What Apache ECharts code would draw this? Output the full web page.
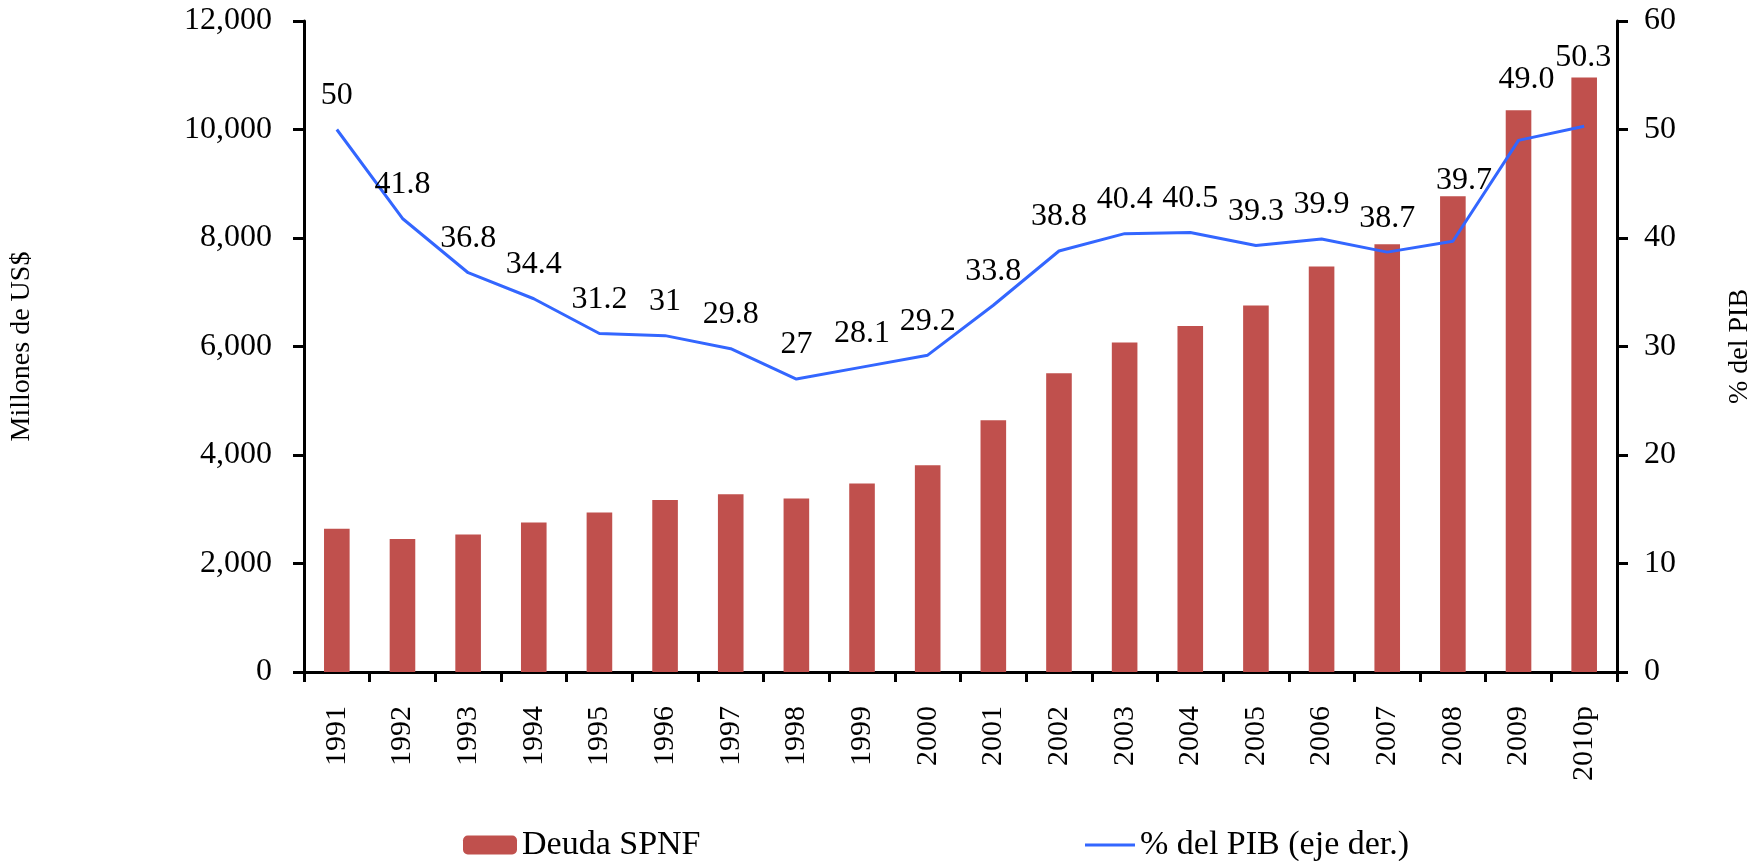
<!DOCTYPE html>
<html>
<head>
<meta charset="utf-8">
<title>Deuda SPNF</title>
<script src="https://cdn.jsdelivr.net/npm/echarts@6/dist/echarts.min.js"></script>
<style>
  html, body { margin: 0; padding: 0; background: #fff; }
  #chart { width: 1762px; height: 861px; }
</style>
</head>
<body>
<div id="chart"></div>
<script>
const years = ['1991', '1992', '1993', '1994', '1995', '1996', '1997', '1998', '1999', '2000',
  '2001', '2002', '2003', '2004', '2005', '2006', '2007', '2008', '2009', '2010p']
// millones de US$
const deuda = [2640, 2450, 2535, 2755, 2940, 3170, 3275, 3200, 3475, 3810,
  4640, 5505, 6075, 6380, 6755, 7475, 7885, 8770, 10355, 10960]
// % del PIB
const pctPib = [50, 41.8, 36.8, 34.4, 31.2, 31, 29.8, 27, 28.1, 29.2,
  33.8, 38.8, 40.4, 40.5, 39.3, 39.9, 38.7, 39.7, 49.0, 50.3]
const pctLabels = ['50', '41.8', '36.8', '34.4', '31.2', '31', '29.8', '27', '28.1', '29.2',
  '33.8', '38.8', '40.4', '40.5', '39.3', '39.9', '38.7', '39.7', '49.0', '50.3']
const leftTicks = [0, 2000, 4000, 6000, 8000, 10000, 12000]
const rightTicks = [0, 10, 20, 30, 40, 50, 60]

const serif = '"Liberation Serif", "Times New Roman", serif'
const black = '#000'
const blue = '#3366FF'

// the last labels sit higher in the original
const labelNudge = { 17: [11, -27], 18: [8, -27], 19: [-1, -35] }

const chart = echarts.init(document.getElementById('chart'))

const axisLine = { show: true, lineStyle: { color: black, width: 3 } }
const axisTick = { show: true, length: 11, lineStyle: { color: black, width: 3 } }

chart.setOption({
  animation: false,
  textStyle: { fontFamily: serif, color: black },
  grid: { left: 302, right: 145, top: 21, bottom: 189 },
  legend: [
    {
      left: 458,
      top: 823,
      itemWidth: 54,
      itemHeight: 19,
      data: ['Deuda SPNF'],
      textStyle: { fontFamily: serif, fontSize: 34, color: black },
    },
    {
      left: 1080,
      top: 823,
      itemWidth: 50,
      itemHeight: 3,
      data: [{ name: '% del PIB (eje der.)', icon: 'rect' }],
      textStyle: { fontFamily: serif, fontSize: 34, color: black },
    },
  ],
  xAxis: {
    type: 'category',
    data: years,
    axisLine,
    axisTick: { show: true, length: 10, lineStyle: { color: black, width: 3 } },
    axisLabel: {
      interval: 0,
      rotate: 90,
      margin: 34,
      fontSize: 30,
      fontFamily: serif,
      color: black,
    },
  },
  yAxis: [
    {
      type: 'value',
      position: 'left',
      min: leftTicks[0],
      max: leftTicks[leftTicks.length - 1],
      interval: leftTicks[1] - leftTicks[0],
      name: 'Millones de US$',
      nameLocation: 'middle',
      nameRotate: 90,
      nameGap: 268,
      nameTextStyle: { fontFamily: serif, fontSize: 28, color: black },
      axisLine,
      axisTick,
      splitLine: { show: false },
      axisLabel: {
        margin: 32,
        fontSize: 32,
        fontFamily: serif,
        color: black,
        formatter: (v) => v.toLocaleString('en-US'),
      },
    },
    {
      type: 'value',
      position: 'right',
      min: rightTicks[0],
      max: rightTicks[rightTicks.length - 1],
      interval: rightTicks[1] - rightTicks[0],
      name: '% del PIB',
      nameLocation: 'middle',
      nameRotate: 90,
      nameGap: 109,
      nameTextStyle: { fontFamily: serif, fontSize: 28, color: black },
      axisLine,
      axisTick,
      splitLine: { show: false },
      axisLabel: { margin: 27, fontSize: 32, fontFamily: serif, color: black },
    },
  ],
  series: [
    {
      name: 'Deuda SPNF',
      type: 'bar',
      yAxisIndex: 0,
      data: deuda,
      barWidth: '39%',
      itemStyle: { color: '#C0504D' },
      z: 2,
    },
    {
      name: '% del PIB (eje der.)',
      type: 'line',
      yAxisIndex: 1,
      symbol: 'circle',
      symbolSize: 0,
      showSymbol: true,
      data: pctPib,
      lineStyle: { color: blue, width: 3 },
      itemStyle: { color: blue },
      labelLayout: (params) => {
        const nudge = labelNudge[params.dataIndex]
        return nudge ? { dx: nudge[0], dy: nudge[1], hideOverlap: false } : { hideOverlap: false }
      },
      label: {
        show: true,
        position: 'top',
        distance: 18,
        fontSize: 32,
        fontFamily: serif,
        color: black,
        formatter: (p) => pctLabels[p.dataIndex],
      },
      z: 3,
    },
  ],
})

window.addEventListener('resize', () => chart.resize())
</script>
</body>
</html>
